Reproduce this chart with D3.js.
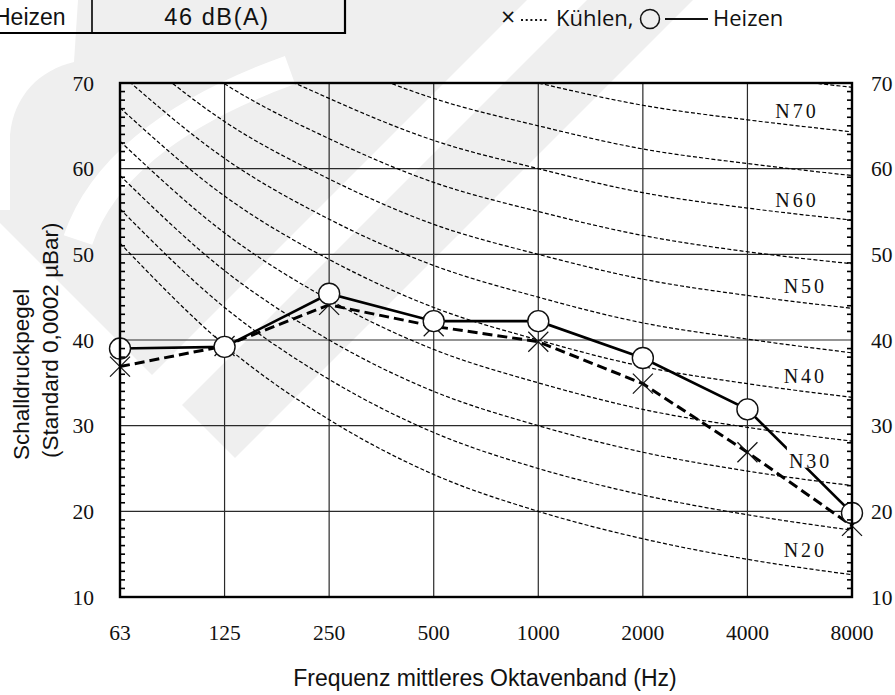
<!DOCTYPE html>
<html>
<head>
<meta charset="utf-8">
<script src="https://cdn.jsdelivr.net/npm/d3@7"></script>
<style>
  body { margin: 0; background: #fff; }
  svg { display: block; }
</style>
</head>
<body>
<svg id="chart" width="895" height="695"></svg>
<script>
// Octave band centre frequencies (Hz)
const bands = ["63", "125", "250", "500", "1000", "2000", "4000", "8000"];

// Measured sound pressure levels per octave band (dB)
const heizen  = [39.0, 39.2, 45.4, 42.2, 42.2, 37.9, 31.9, 19.8];
const kuehlen = [36.9, 39.3, 44.1, 41.6, 39.8, 34.9, 26.9, 18.3];

// Left / right axis tick values
const yTicks = [10, 20, 30, 40, 50, 60, 70];

// Noise rating curves N20 ... N75, levels per octave band (dB)
const nrLevels = [20, 25, 30, 35, 40, 45, 50, 55, 60, 65, 70, 75];
const nrValues = [
  [51.3, 39.4, 30.7, 24.3, 20, 16.8, 14.4, 12.6],
  [55.3, 43.8, 35.4, 29.2, 25, 21.9, 19.6, 17.8],
  [59.2, 48.1, 40.0, 34.0, 30, 26.9, 24.7, 23.0],
  [63.2, 52.5, 44.7, 38.9, 35, 31.9, 29.8, 28.2],
  [67.1, 56.8, 49.4, 43.8, 40, 36.9, 34.9, 33.3],
  [71.1, 61.2, 54.1, 48.7, 45, 42.0, 40.1, 38.5],
  [75.0, 65.5, 58.8, 53.5, 50, 47.1, 45.2, 43.7],
  [79.0, 69.9, 63.5, 58.4, 55, 52.2, 50.3, 48.9],
  [82.9, 74.2, 68.2, 63.3, 60, 57.2, 55.4, 54.0],
  [86.9, 78.6, 72.9, 68.2, 65, 62.3, 60.6, 59.2],
  [90.8, 82.9, 77.5, 73.0, 70, 67.4, 65.7, 64.3],
  [94.8, 87.3, 82.2, 77.9, 75, 72.5, 70.9, 69.5]
];
// Curves that carry a name label
const nrLabelled = [20, 30, 40, 50, 60, 70];

// Header table row
const tableRow = ["Heizen", "46 dB(A)"];

const svg = d3.select("#chart");
const plot = { left: 120, right: 852, top: 83, bottom: 597 };

const x = d3.scalePoint().domain(bands).range([plot.left, plot.right]);
const y = d3.scaleLinear().domain([10, 70]).range([plot.bottom, plot.top]);

// ---- light background emblem ----
const bg = svg.append("g").attr("fill", "#efefef");
bg.append("path").attr("d", "M0,0 L527,0 L152,375 L0,223 Z");
bg.append("path").attr("d", "M587,0 L693,0 L235,458 L182,405 Z");
const cut = svg.append("g").attr("fill", "#fff");
cut.append("path").attr("d", "M0,0 L78,0 L74,62 C40,70 14,95 10,135 L10,210 L0,210 Z");
cut.append("path")
  .attr("d", "M78,240 C100,175 165,115 290,70")
  .attr("fill", "none").attr("stroke", "#fff").attr("stroke-width", 30);

// ---- header table ----
const sans = "Liberation Sans, Arial, sans-serif";
const tbl = svg.append("g");
tbl.append("line").attr("x1", 0).attr("x2", 346).attr("y1", 33).attr("y2", 33)
  .attr("stroke", "#000").attr("stroke-width", 2.2);
tbl.append("line").attr("x1", 92).attr("x2", 92).attr("y1", 0).attr("y2", 33)
  .attr("stroke", "#000").attr("stroke-width", 1.6);
tbl.append("line").attr("x1", 345).attr("x2", 345).attr("y1", 0).attr("y2", 34)
  .attr("stroke", "#000").attr("stroke-width", 2.2);
tbl.append("text").attr("x", -6).attr("y", 25).text(tableRow[0])
  .attr("font-family", sans).attr("font-size", 23).attr("fill", "#111");
tbl.append("text").attr("x", 217).attr("y", 25).attr("text-anchor", "middle").text(tableRow[1])
  .attr("font-family", sans).attr("font-size", 23.5).attr("letter-spacing", 1.6).attr("fill", "#111");

// ---- legend ----
const lg = svg.append("g").attr("font-family", "Open Sans, sans-serif").attr("font-size", 22).attr("fill", "#111");
lg.append("text").attr("x", 501).attr("y", 26).attr("font-size", 25).text("×");
lg.append("line").attr("x1", 521).attr("x2", 549).attr("y1", 20).attr("y2", 20)
  .attr("stroke", "#111").attr("stroke-width", 2).attr("stroke-dasharray", "2,2.7");
lg.append("text").attr("x", 556).attr("y", 26).text("Kühlen,");
lg.append("circle").attr("cx", 650).attr("cy", 19).attr("r", 9.5)
  .attr("fill", "none").attr("stroke", "#111").attr("stroke-width", 1.5);
lg.append("line").attr("x1", 665).attr("x2", 708).attr("y1", 19).attr("y2", 19)
  .attr("stroke", "#111").attr("stroke-width", 1.8);
lg.append("text").attr("x", 713).attr("y", 26).text("Heizen");

// ---- grid ----
const grid = svg.append("g").attr("stroke", "#2a2a2a").attr("stroke-width", 1.2);
grid.selectAll("line.v").data(bands.slice(1, -1)).join("line")
  .attr("x1", d => x(d)).attr("x2", d => x(d))
  .attr("y1", plot.top).attr("y2", plot.bottom);
grid.selectAll("line.h").data(yTicks.slice(1, -1)).join("line")
  .attr("x1", plot.left).attr("x2", plot.right)
  .attr("y1", d => y(d)).attr("y2", d => y(d));

// ---- noise rating curves ----
svg.append("clipPath").attr("id", "plotclip").append("rect")
  .attr("x", plot.left).attr("y", plot.top)
  .attr("width", plot.right - plot.left).attr("height", plot.bottom - plot.top);

const nrLine = d3.line()
  .x((d, i) => x(bands[i])).y(d => y(d))
  .curve(d3.curveMonotoneX);

svg.append("g").attr("clip-path", "url(#plotclip)")
  .selectAll("path").data(nrValues).join("path")
  .attr("d", nrLine)
  .attr("fill", "none").attr("stroke", "#000").attr("stroke-width", 1.2)
  .attr("stroke-dasharray", "4,2.2");

// ---- measured series ----
const serLine = d3.line().x((d, i) => x(bands[i])).y(d => y(d));

svg.append("path").datum(kuehlen).attr("d", serLine)
  .attr("fill", "none").attr("stroke", "#000").attr("stroke-width", 3)
  .attr("stroke-dasharray", "10,5");

const cross = svg.append("g").attr("stroke", "#111").attr("stroke-width", 1.2);
kuehlen.forEach((v, i) => {
  const cx = x(bands[i]), cy = y(v), s = 10;
  cross.append("line").attr("x1", cx - s).attr("y1", cy - s).attr("x2", cx + s).attr("y2", cy + s);
  cross.append("line").attr("x1", cx - s).attr("y1", cy + s).attr("x2", cx + s).attr("y2", cy - s);
});

svg.append("path").datum(heizen).attr("d", serLine)
  .attr("fill", "none").attr("stroke", "#000").attr("stroke-width", 2.6);

svg.append("g").selectAll("circle").data(heizen).join("circle")
  .attr("cx", (d, i) => x(bands[i])).attr("cy", d => y(d)).attr("r", 10.5)
  .attr("fill", "#fff").attr("stroke", "#111").attr("stroke-width", 1.4);

// ---- curve name labels (between the 4000 and 8000 Hz bands, just above their curve) ----
const step = x.step();
const labelAt = {
  70: { f: 0.46, dy: 7 }, 60: { f: 0.46, dy: 7 }, 50: { f: 0.54, dy: 9 },
  40: { f: 0.54, dy: 8 }, 30: { f: 0.59, dy: 12 }, 20: { f: 0.54, dy: 11 }
};
const labels = svg.append("g")
  .attr("font-family", "Liberation Serif, Times New Roman, serif")
  .attr("font-size", 20).attr("fill", "#111");
nrLabelled.forEach(lv => {
  const vals = nrValues[nrLevels.indexOf(lv)];
  const p = labelAt[lv];
  const lx = x("4000") + step * p.f + 1.5;
  const ly = y(vals[6] + (vals[7] - vals[6]) * p.f) - p.dy;
  const t = labels.append("text").attr("x", lx).attr("y", ly)
    .attr("text-anchor", "middle").attr("letter-spacing", 3).text("N" + lv);
  const bb = t.node().getBBox();
  labels.insert("rect", () => t.node())
    .attr("x", bb.x - 2).attr("y", bb.y - 3).attr("width", bb.width).attr("height", bb.height - 1)
    .attr("fill", "#fff");
});

// ---- frame and minor ticks ----
svg.append("rect").attr("x", plot.left).attr("y", plot.top)
  .attr("width", plot.right - plot.left).attr("height", plot.bottom - plot.top)
  .attr("fill", "none").attr("stroke", "#000").attr("stroke-width", 2.4);

const minor = d3.range(11, 70).filter(v => v % 10 !== 0);
const tk = svg.append("g").attr("stroke", "#000").attr("stroke-width", 1.6);
tk.append("g").selectAll("line").data(minor).join("line")
  .attr("x1", plot.left).attr("x2", plot.left + 5)
  .attr("y1", d => y(d)).attr("y2", d => y(d));
tk.append("g").selectAll("line").data(minor).join("line")
  .attr("x1", plot.right - 5).attr("x2", plot.right)
  .attr("y1", d => y(d)).attr("y2", d => y(d));

// ---- axis labels ----
const serif = "Liberation Serif, Times New Roman, serif";
const axL = svg.append("g").attr("font-family", serif).attr("font-size", 21.5).attr("fill", "#111");
axL.selectAll("text").data(yTicks).join("text")
  .attr("x", 94).attr("y", d => y(d) + 7.5).attr("text-anchor", "end").text(d => d);
const axR = svg.append("g").attr("font-family", serif).attr("font-size", 21.5).attr("fill", "#111");
axR.selectAll("text").data(yTicks).join("text")
  .attr("x", 871).attr("y", d => y(d) + 7.5).attr("text-anchor", "start").text(d => d);
const axB = svg.append("g").attr("font-family", serif).attr("font-size", 21.5).attr("fill", "#111");
axB.selectAll("text").data(bands).join("text")
  .attr("x", d => x(d)).attr("y", 640).attr("text-anchor", "middle").text(d => d);

svg.append("text").attr("x", 485).attr("y", 686).attr("text-anchor", "middle")
  .attr("font-family", sans).attr("font-size", 23).attr("fill", "#111")
  .text("Frequenz mittleres Oktavenband (Hz)");

const yt = svg.append("g").attr("font-family", sans).attr("font-size", 22.5).attr("fill", "#111");
yt.append("text").attr("transform", "translate(29,460) rotate(-90)").text("Schalldruckpegel");
yt.append("text").attr("transform", "translate(58,458) rotate(-90)").text("(Standard 0,0002 µBar)");
</script>
</body>
</html>
